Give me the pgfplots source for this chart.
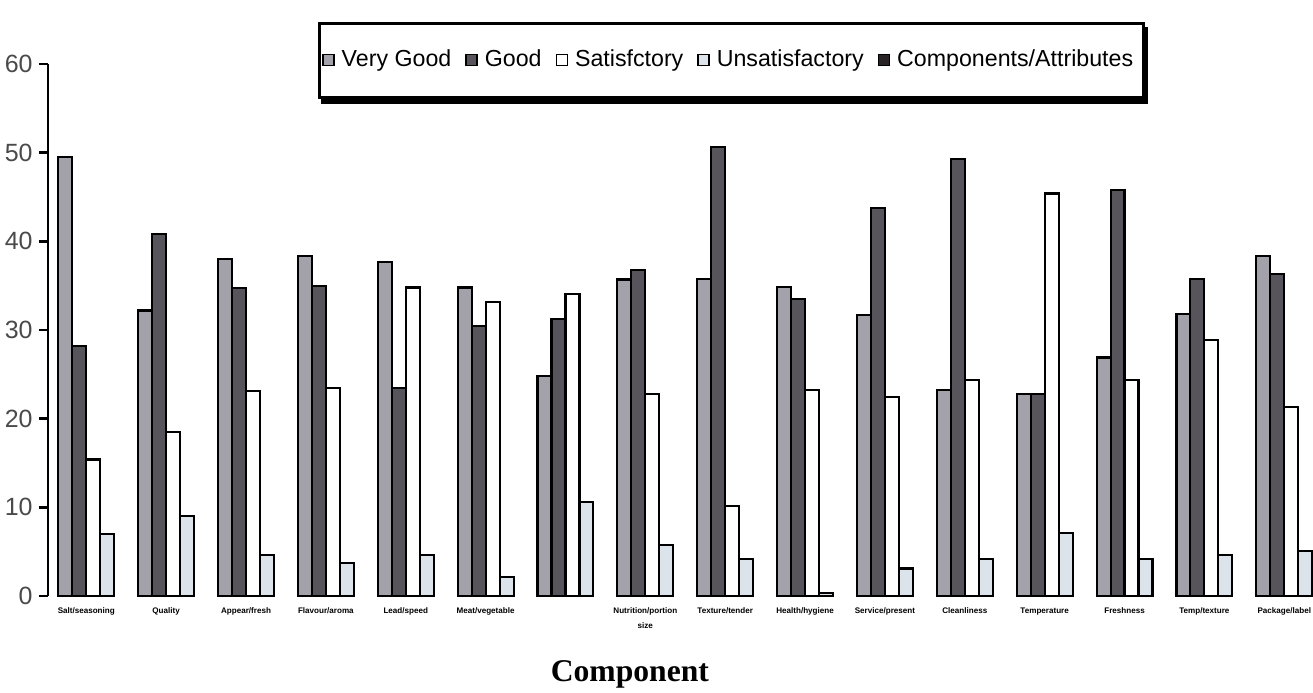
\documentclass[border=0pt]{standalone}
\usepackage{fontspec}
\setmainfont{Liberation Sans}
\newfontfamily\labelserif{Liberation Serif}
\usepackage{pgfplots}
\pgfplotsset{compat=1.18}
\usetikzlibrary{calc,backgrounds}

\definecolor{vgood}{HTML}{A3A1A9}
\definecolor{good}{HTML}{57545C}
\definecolor{unsat}{HTML}{DDE3EB}
\definecolor{comp}{HTML}{2A2426}
\definecolor{ticktxt}{HTML}{4A4A4A}

\pgfplotsset{
  sqlegend/.style={legend image code/.code={
    \draw[##1, line width=0.4pt] (0mm,-0.5mm) rectangle (1.1mm,0.6mm);}},
}

\begin{document}
\begin{tikzpicture}
\begin{axis}[
  scale only axis, width=126.5mm, height=53.2mm,
  xmin=0.52, xmax=16.36, ymin=0, ymax=60,
  ybar=0pt, bar width=0.175,
  axis lines*=left,
  x axis line style={draw=none},
  y axis line style={black, line width=0.8pt},
  ytick={0,10,...,60},
  tick align=outside, major tick length=0.9mm,
  ytick style={black, line width=0.8pt},
  xtick={1,...,16}, xtick style={draw=none},
  xticklabels={Salt/seasoning, Quality, Appear/fresh, Flavour/aroma,
    Lead/speed, Meat/vegetable, {}, {Nutrition/portion\\size},
    Texture/tender, Health/hygiene, Service/present, Cleanliness,
    Temperature, Freshness, Temp/texture, Package/label},
  x tick label style={font=\fontsize{2.3}{4.2}\selectfont\bfseries, align=center, anchor=north},
  xticklabel shift=-1mm,
  y tick label style={font=\fontsize{7.1}{8}\selectfont, color=ticktxt},
  yticklabel shift=-0.6mm,
  /pgf/number format/assume math mode=true,
  xlabel={Component},
  xlabel style={font=\labelserif\bfseries\fontsize{9}{11}\selectfont,
    at={(axis description cs:0.46,-0.148)}, anchor=center},
  legend columns=5,
  legend style={at={(axis description cs:0.2134,1.079)}, anchor=north west,
    name=leg, fill=white,
    draw=black, line width=0.8pt, font=\fontsize{6.6}{8.5}\selectfont,
    inner xsep=0.3mm, inner ysep=1.9mm,
    /tikz/every even column/.append style={column sep=0.7mm}},
  legend cell align=left,
  clip=false,
]
\addplot[sqlegend, fill=vgood, draw=black, line width=0.6pt] coordinates {
  (1,49.5) (2,32.2) (3,38.0) (4,38.3) (5,37.7) (6,34.8) (7,24.8) (8,35.7)
  (9,35.8) (10,34.9) (11,31.7) (12,23.2) (13,22.8) (14,26.9) (15,31.8) (16,38.3)};
\addlegendentry{Very Good}
\addplot[sqlegend, fill=good, draw=black, line width=0.6pt] coordinates {
  (1,28.2) (2,40.8) (3,34.7) (4,35.0) (5,23.5) (6,30.5) (7,31.2) (8,36.8)
  (9,50.6) (10,33.5) (11,43.8) (12,49.3) (13,22.8) (14,45.8) (15,35.8) (16,36.3)};
\addlegendentry{Good}
\addplot[sqlegend, fill=white, draw=black, line width=0.6pt] coordinates {
  (1,15.4) (2,18.5) (3,23.1) (4,23.5) (5,34.8) (6,33.2) (7,34.1) (8,22.8)
  (9,10.2) (10,23.2) (11,22.4) (12,24.4) (13,45.4) (14,24.4) (15,28.9) (16,21.3)};
\addlegendentry{Satisfctory}
\addplot[sqlegend, fill=unsat, draw=black, line width=0.6pt] coordinates {
  (1,7.0) (2,9.0) (3,4.6) (4,3.7) (5,4.6) (6,2.1) (7,10.6) (8,5.8)
  (9,4.2) (10,0.3) (11,3.1) (12,4.2) (13,7.1) (14,4.2) (15,4.6) (16,5.1)};
\addlegendentry{Unsatisfactory}
\addlegendimage{sqlegend, fill=comp, draw=black}
\addlegendentry{Components/Attributes}
\coordinate (bbll) at (rel axis cs:-0.0379,-0.1805);
\coordinate (bbur) at (rel axis cs:1,1.1203);
\end{axis}
\begin{pgfonlayer}{background}
  \fill[black] ($(leg.south west)+(0.35mm,-0.5mm)$) rectangle ($(leg.north east)+(0.35mm,-0.5mm)$);
\end{pgfonlayer}
\pgfresetboundingbox
\path (bbll) rectangle (bbur);
\end{tikzpicture}
\end{document}
